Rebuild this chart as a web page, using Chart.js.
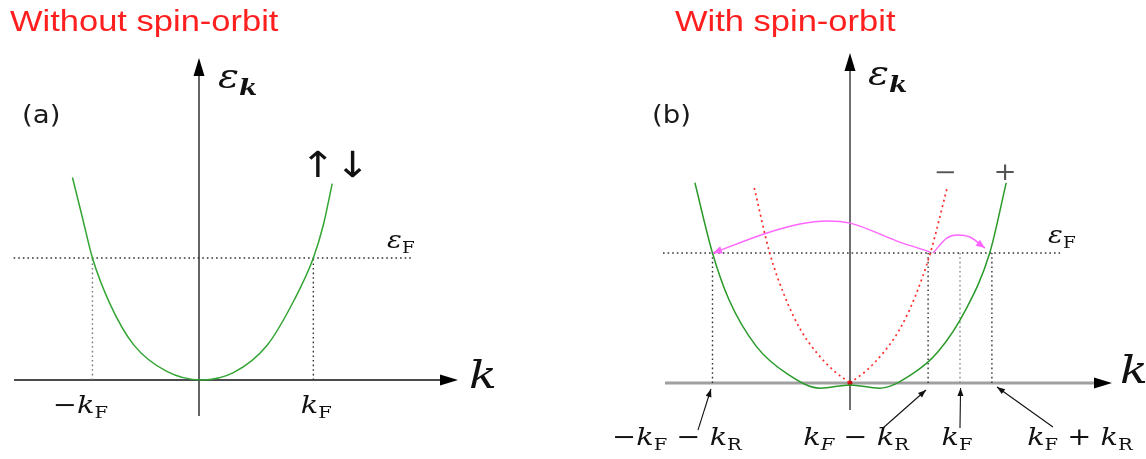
<!DOCTYPE html>
<html>
<head>
<meta charset="utf-8">
<script src="https://cdn.jsdelivr.net/npm/chart.js@4.4.1/dist/chart.umd.min.js"></script>
<style>
  html, body { margin: 0; padding: 0; background: #fff; }
  #wrap { position: relative; width: 1146px; height: 459px; overflow: hidden; }
  canvas { position: absolute; top: 0; }
  .ttl { position: absolute; top: 6px; font: 30px 'Liberation Sans', Arial, sans-serif; line-height: 30px;
         color: #ff1f1f; transform: scaleX(1.15); transform-origin: 0 0; white-space: nowrap; }
</style>
</head>
<body>
<div id="wrap">
  <canvas id="chartA" width="573" height="459" style="left:0"></canvas>
  <canvas id="chartB" width="573" height="459" style="left:573px"></canvas>
  <div class="ttl" style="left:10px">Without spin-orbit</div>
  <div class="ttl" style="left:675px">With spin-orbit</div>
</div>
<script>
// k in units of k_F, energy in units of eps_F

// panel (a): degenerate band, no spin-orbit
var kA   = [-1.14, -1.05, -0.96, -0.80, -0.59, -0.29, 0.02, 0.31, 0.61, 0.86, 1.03, 1.12, 1.20];
var epsA = [ 1.66,  1.33,  1.00,  0.62,  0.29,  0.07, 0.00, 0.06, 0.28, 0.66, 1.00, 1.27, 1.61];
var ticksA = [-0.96, 1.03];
var tickLabelsA = ['−k_F', 'k_F'];
var fermiA = [-1.67, 1.92];

// panel (b): Rashba split bands
var kPlus   = [-1.41, -1.25, -1.10, -0.85, -0.57, -0.27, 0.00, 0.27, 0.55, 0.80, 1.05, 1.27, 1.42];
var epsPlus = [ 1.54,  1.00,  0.64,  0.28,  0.07, -0.04, -0.015, -0.04, 0.06, 0.24, 0.56, 1.00, 1.54];
var kMinus   = [-0.87, -0.73, -0.59, -0.45, -0.30, -0.155, 0.00, 0.155, 0.30, 0.45, 0.59, 0.73, 0.88];
var epsMinus = [ 1.50,  1.00,  0.66,  0.41,  0.23,  0.10,  0.00, 0.10,  0.23, 0.41, 0.66, 1.00, 1.49];
var kJump1   = [-1.245, -0.755, -0.455, -0.21, 0.00, 0.427, 0.727];
var epsJump1 = [ 1.00,   1.154,  1.223,  1.246, 1.23, 1.092, 1.008];
var kJump2   = [0.755, 0.88, 0.973, 1.09, 1.227];
var epsJump2 = [1.00,  1.115, 1.138, 1.123, 1.038];
var ticksB = [-1.25, 0.71, 1.00, 1.29];
var tickLabelsB = ['−k_F − k_R', 'k_*F − k_R', 'k_F', 'k_F + k_R'];
var fermiB = [-1.70, 1.91];

var STRETCH = 1.15;
var SERIF = "'DejaVu Serif', 'Liberation Serif', serif";
var SANS = "'DejaVu Sans', 'Liberation Sans', sans-serif";

function pts(ks, es) {
  return ks.map(function (k, i) { return { x: k, y: es[i] }; });
}

function curve(ks, es, color, extra) {
  return Object.assign({
    data: pts(ks, es), showLine: true, borderColor: color, borderWidth: 1.5,
    pointRadius: 0, fill: false, cubicInterpolationMode: 'monotone'
  }, extra || {});
}

function dotted(points, color) {
  return {
    data: points, showLine: true, borderColor: color, borderWidth: 1.4, borderDash: [1.6, 3],
    pointRadius: 0, tension: 0, clip: false
  };
}

// tiny math markup: _X roman subscript, _*X italic subscript, _!X bold italic subscript
function parseMath(s) {
  var parts = [];
  for (var i = 0; i < s.length; i++) {
    var c = s[i];
    if (c === '_') {
      var mode = 'sr';
      if (s[i + 1] === '*') { mode = 'si'; i++; }
      else if (s[i + 1] === '!') { mode = 'sbi'; i++; }
      i++;
      parts.push([s[i], mode]);
    } else if (/[a-zε]/.test(c)) {
      parts.push([c, 'i']);
    } else {
      parts.push([c, 'r']);
    }
  }
  return parts;
}

function drawMath(ctx, str, x, y, size, align, color) {
  var parts = parseMath(str);
  var fontOf = function (m) {
    var sub = m[0] === 's';
    var sz = sub ? Math.round(size * 0.68) : size;
    var st = (m === 'i' || m === 'si') ? 'italic ' : (m === 'sbi' ? 'italic bold ' : '');
    return st + sz + 'px ' + SERIF;
  };
  var widths = parts.map(function (p) { ctx.font = fontOf(p[1]); return ctx.measureText(p[0]).width; });
  var w = widths.reduce(function (a, b) { return a + b; }, 0);
  ctx.save();
  ctx.translate(x, y);
  ctx.scale(STRETCH, 1);
  ctx.fillStyle = color || '#111';
  ctx.textAlign = 'left';
  ctx.textBaseline = 'alphabetic';
  var cx = align === 'center' ? -w / 2 : 0;
  parts.forEach(function (p, i) {
    ctx.font = fontOf(p[1]);
    ctx.fillText(p[0], cx, p[1][0] === 's' ? size * 0.22 : 0);
    cx += widths[i];
  });
  ctx.restore();
}

function arrowHead(ctx, fx, fy, tx, ty, len, half, color) {
  var ang = Math.atan2(ty - fy, tx - fx);
  var bx = tx - len * Math.cos(ang), by = ty - len * Math.sin(ang);
  ctx.save();
  ctx.fillStyle = color;
  ctx.beginPath();
  ctx.moveTo(tx, ty);
  ctx.lineTo(bx - half * Math.sin(ang), by + half * Math.cos(ang));
  ctx.lineTo(bx + half * Math.sin(ang), by - half * Math.cos(ang));
  ctx.closePath();
  ctx.fill();
  ctx.restore();
}

function makeDiagram(cfg) {
  return {
    id: 'diagram',
    beforeDatasetsDraw: function (chart) {
      var ctx = chart.ctx, a = chart.chartArea;
      var x0 = chart.scales.x.getPixelForValue(0), y0 = chart.scales.y.getPixelForValue(0);
      ctx.save();
      ctx.strokeStyle = cfg.xAxisColor; ctx.lineWidth = cfg.xAxisWidth;
      ctx.beginPath(); ctx.moveTo(a.left, y0); ctx.lineTo(a.right - 10, y0); ctx.stroke();
      ctx.strokeStyle = cfg.yAxisColor; ctx.lineWidth = cfg.yAxisWidth;
      ctx.beginPath(); ctx.moveTo(x0, a.bottom); ctx.lineTo(x0, a.top + 10); ctx.stroke();
      ctx.restore();
      arrowHead(ctx, a.right - 18, y0, a.right, y0, 18, 5.5, '#000');
      arrowHead(ctx, x0, a.top + 18, x0, a.top, 18, 5.5, '#000');
    },
    afterDatasetsDraw: function (chart) {
      var ctx = chart.ctx;
      chart.data.datasets.forEach(function (ds, i) {
        if (!ds.arrowAt) return;
        var els = chart.getDatasetMeta(i).data, tip, from;
        if (ds.arrowAt === 'end') {
          tip = els[els.length - 1];
          from = els[els.length - 2];
        } else {
          tip = els[0];
          from = els[1];
        }
        arrowHead(ctx, from.x, from.y, tip.x, tip.y, 9, 3.8, ds.borderColor);
      });
    },
    afterDraw: function (chart) {
      var ctx = chart.ctx, a = chart.chartArea, sx = chart.scales.x, sy = chart.scales.y;
      var x0 = sx.getPixelForValue(0), y0 = sy.getPixelForValue(0);
      var anchor = function (at) {
        if (at === 'top') return [x0, a.top];
        if (at === 'right') return [a.right, y0];
        if (at === 'corner') return [a.left, a.top];
        return [sx.getPixelForValue(at[0]), sy.getPixelForValue(at[1])];
      };
      cfg.labels.forEach(function (l) {
        var p = anchor(l.at), x = p[0] + (l.dx || 0), y = p[1] + (l.dy || 0);
        if (l.sans) {
          ctx.save();
          ctx.translate(x, y); ctx.scale(STRETCH, 1);
          ctx.font = l.size + 'px ' + SANS;
          ctx.fillStyle = l.color || '#1a1a1a';
          ctx.textAlign = l.align || 'left';
          ctx.textBaseline = l.mid ? 'middle' : 'alphabetic';
          ctx.fillText(l.text, 0, 0);
          ctx.restore();
        } else {
          drawMath(ctx, l.text, x, y, l.size, l.align || 'left', l.color);
        }
      });
      cfg.ticks.forEach(function (t, i) {
        drawMath(ctx, cfg.tickLabels[i], sx.getPixelForValue(t) + cfg.tickDx[i], y0 + cfg.tickDy, cfg.tickSize, 'center', '#111');
      });
      (cfg.pointers || []).forEach(function (p) {
        var f = anchor(p[0]), t = anchor(p[1]);
        ctx.save();
        ctx.strokeStyle = '#111'; ctx.lineWidth = 1.1;
        ctx.beginPath(); ctx.moveTo(f[0], f[1]); ctx.lineTo(t[0], t[1]); ctx.stroke();
        ctx.restore();
        arrowHead(ctx, f[0], f[1], t[0], t[1], 8, 3, '#111');
      });
    }
  };
}

function baseOptions(pad, xr, yr) {
  return {
    responsive: false, animation: false, devicePixelRatio: 1, events: [],
    layout: { padding: pad },
    scales: {
      x: { type: 'linear', display: false, min: xr[0], max: xr[1] },
      y: { type: 'linear', display: false, min: yr[0], max: yr[1] }
    },
    plugins: { legend: { display: false }, tooltip: { enabled: false } }
  };
}

// ---------- panel (a)
var dsA = [curve(kA, epsA, '#33a533')];
dsA.push(dotted([{ x: fermiA[0], y: 1 }, { x: fermiA[1], y: 1 }], '#333'));
ticksA.forEach(function (t, i) { dsA.push(dotted([{ x: t, y: 0 }, { x: t, y: 1 }], i === 0 ? '#777' : '#333')); });

new Chart(document.getElementById('chartA').getContext('2d'), {
  type: 'scatter',
  data: { datasets: dsA },
  options: baseOptions({ left: 14, right: 115, top: 58, bottom: 43 }, [-1.6667, 2.3333], [-0.2951, 2.6393]),
  plugins: [makeDiagram({
    xAxisColor: '#111', xAxisWidth: 1.5, yAxisColor: '#111', yAxisWidth: 1.3,
    ticks: ticksA, tickLabels: tickLabelsA, tickDx: [-12, 3], tickDy: 33, tickSize: 25,
    labels: [
      { text: 'ε_!k', at: 'top', dx: 19, dy: 30, size: 34 },
      { text: 'k', at: 'right', dx: 11, dy: 8, size: 40 },
      { text: 'ε_F', at: [fermiA[1], 1], dx: -25, dy: -10, size: 24 },
      { text: '(a)', at: 'corner', dx: 8, dy: 65, size: 24, sans: true },
      { text: '↑↓', at: [1.225, 1.74], size: 36, sans: true, align: 'center', mid: true, color: '#111' }
    ]
  })]
});

// ---------- panel (b)
var iv = kMinus.indexOf(0);
var dsB = [
  curve(kJump1, epsJump1, '#ff66ff', { arrowAt: 'start', borderWidth: 1.4 }),
  curve(kJump2, epsJump2, '#ff66ff', { arrowAt: 'end', borderWidth: 1.4 }),
  curve(kPlus, epsPlus, '#2a9a2a'),
  curve(kMinus.slice(0, iv + 1), epsMinus.slice(0, iv + 1), '#ff2a2a', { borderDash: [2, 3.5], borderWidth: 1.7 }),
  curve(kMinus.slice(iv), epsMinus.slice(iv), '#ff2a2a', {
    borderDash: [2, 3.5], borderWidth: 1.7,
    pointRadius: function (c) { return c.dataIndex === 0 ? 2.5 : 0; },
    pointBackgroundColor: '#c01010', pointBorderWidth: 0
  })
];
dsB.push(dotted([{ x: fermiB[0], y: 1 }, { x: fermiB[1], y: 1 }], '#333'));
ticksB.forEach(function (t) {
  dsB.push(dotted([{ x: t, y: 0 }, { x: t, y: 1 }], t === 1 ? '#888' : '#333'));
});

new Chart(document.getElementById('chartB').getContext('2d'), {
  type: 'scatter',
  data: { datasets: dsB },
  options: baseOptions({ left: 92, right: 34, top: 53, bottom: 49 }, [-1.6818, 2.3818], [-0.2077, 2.5385]),
  plugins: [makeDiagram({
    xAxisColor: '#a0a0a0', xAxisWidth: 3, yAxisColor: '#707070', yAxisWidth: 2,
    ticks: ticksB, tickLabels: tickLabelsB, tickDx: [-35.5, -72, -3, 88], tickDy: 62, tickSize: 25,
    labels: [
      { text: 'ε_!k', at: 'top', dx: 18, dy: 32, size: 34 },
      { text: 'k', at: 'right', dx: 8, dy: 0, size: 40 },
      { text: 'ε_F', at: [fermiB[1], 1], dx: -12, dy: -10, size: 24 },
      { text: '(b)', at: 'corner', dx: -13, dy: 70, size: 24, sans: true },
      { text: '−', at: [0.864, 1.56], size: 24, align: 'center', color: '#555' },
      { text: '+', at: [1.41, 1.56], size: 24, align: 'center', color: '#555' }
    ],
    pointers: [
      [[-1.382, -0.362], [-1.264, -0.046]],
      [[0.300, -0.346], [0.691, -0.054]],
      [[1.000, -0.346], [1.005, -0.038]],
      [[1.845, -0.338], [1.336, -0.031]]
    ]
  })]
});
</script>
</body>
</html>
